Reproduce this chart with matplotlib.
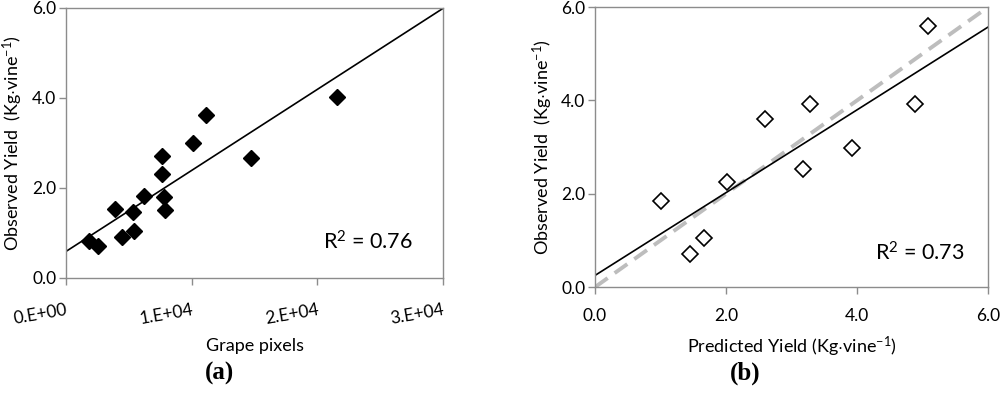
import matplotlib
matplotlib.use("Agg")
import matplotlib.pyplot as plt
import numpy as np

plt.rcParams['font.family'] = ['Lato', 'DejaVu Sans']
plt.rcParams['mathtext.fontset'] = 'custom'
plt.rcParams['mathtext.rm'] = 'Lato'
plt.rcParams['mathtext.it'] = 'Lato:italic'
plt.rcParams['mathtext.bf'] = 'Lato:bold'

# Panel (a): grape pixels vs observed yield
pixels_a = [1858, 2575, 3903, 4434, 5310, 5442, 6239, 7673, 7673, 7832, 7885,
            10088, 11124, 14708, 21558]
yield_a = [0.83, 0.70, 1.53, 0.90, 1.47, 1.04, 1.83, 2.72, 2.31, 1.81, 1.52,
           2.99, 3.62, 2.67, 4.01]
fit_a = (1.80e-4, 0.59)   # slope, intercept
r2_a = "0.76"
xticks_a = [0, 1e4, 2e4, 3e4]
xticklabels_a = ["0.E+00", "1.E+04", "2.E+04", "3.E+04"]

# Panel (b): predicted vs observed yield
pred_b = [1.01, 1.45, 1.67, 2.02, 2.59, 3.17, 3.29, 3.93, 4.88, 5.08]
obs_b = [1.84, 0.72, 1.05, 2.25, 3.61, 2.54, 3.92, 2.99, 3.92, 5.60]
fit_b = (0.887, 0.25)
r2_b = "0.73"
ticks_b = [0, 2, 4, 6]
yticks = [0, 2, 4, 6]
ticklabels = ["0.0", "2.0", "4.0", "6.0"]

fig = plt.figure(figsize=(10, 3.96), dpi=100)
ax1 = fig.add_axes([0.066, 0.298, 0.377, 0.682])
ax2 = fig.add_axes([0.595, 0.275, 0.393, 0.707])

spine_col = '#8c8c8c'
for ax in (ax1, ax2):
    for s in ax.spines.values():
        s.set_color(spine_col)
        s.set_linewidth(1.0)
    ax.tick_params(direction='out', length=5, width=1.0, color=spine_col,
                   labelsize=12.5, labelcolor='black')
    ax.set_ylim(0, 6)
    ax.set_yticks(yticks)
    ax.set_yticklabels(ticklabels)
    ax.tick_params(axis='y', pad=2)

# (a)
ax1.set_xlim(0, 3e4)
xs = np.array([0, 3e4])
ax1.plot(xs, fit_a[0] * xs + fit_a[1], color='black', lw=1.2, zorder=2)
ax1.plot(pixels_a, yield_a, linestyle='none', marker='D', markersize=8.5,
         color='black', zorder=3)
ax1.set_xticks(xticks_a)
ax1.set_xticklabels(xticklabels_a, rotation=10, ha='right', va='top',
                    rotation_mode='anchor')
ax1.tick_params(axis='x', pad=12)
ax1.set_xlabel("Grape pixels", fontsize=13, labelpad=8)
ax1.set_ylabel(r"Observed Yield  (Kg$\cdot$vine$^{-1}$)", fontsize=13, labelpad=5)
ax1.text(0.682, 0.133, r"R$^{2}$ = " + r2_a, transform=ax1.transAxes,
         fontsize=15.5, ha='left', va='center')

# (b)
ax2.set_xlim(0, 6)
xb = np.array([0, 6])
ax2.plot(xb, xb, color='#bdbdbd', lw=2.8, linestyle=(0, (4, 2.2)), zorder=1)
ax2.plot(xb, fit_b[0] * xb + fit_b[1], color='black', lw=1.2, zorder=2)
ax2.plot(pred_b, obs_b, linestyle='none', marker='D', markersize=8.5,
         markerfacecolor='white', markeredgecolor='black', markeredgewidth=1.2,
         zorder=3)
ax2.set_xticks(ticks_b)
ax2.set_xticklabels(ticklabels)
ax2.tick_params(axis='x', pad=10)
ax2.set_xlabel(r"Predicted Yield (Kg$\cdot$vine$^{-1}$)", fontsize=13, labelpad=8)
ax2.set_ylabel(r"Observed Yield  (Kg$\cdot$vine$^{-1}$)", fontsize=13, labelpad=4)
ax2.text(0.712, 0.121, r"R$^{2}$ = " + r2_b, transform=ax2.transAxes,
         fontsize=15.5, ha='left', va='center')

fig.text(0.220, 0.058, "(a)", family='Liberation Serif', fontweight='bold',
         fontsize=18, ha='center', va='center')
fig.text(0.745, 0.058, "(b)", family='Liberation Serif', fontweight='bold',
         fontsize=18, ha='center', va='center')

fig.savefig("out.png", dpi=100)
